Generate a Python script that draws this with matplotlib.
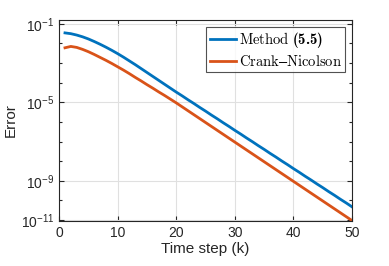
import matplotlib
matplotlib.use("Agg")
import matplotlib.pyplot as plt
import numpy as np
from matplotlib.ticker import FixedLocator, FuncFormatter

# time steps and log10 of the error
steps = list(range(1, 51))
log_err_method = [
    -1.46, -1.50, -1.57, -1.66, -1.77, -1.90, -2.04, -2.19, -2.35, -2.52,
    -2.70, -2.89, -3.08, -3.28, -3.48, -3.68, -3.88, -4.08, -4.28, -4.48,
    -4.67, -4.87, -5.06, -5.26, -5.45, -5.65, -5.84, -6.04, -6.23, -6.43,
    -6.62, -6.82, -7.01, -7.21, -7.40, -7.60, -7.79, -7.99, -8.18, -8.38,
    -8.57, -8.77, -8.96, -9.16, -9.35, -9.55, -9.74, -9.94, -10.13, -10.33,
]
log_err_cn = [
    -2.22, -2.15, -2.20, -2.30, -2.42, -2.56, -2.71, -2.86, -3.02, -3.19,
    -3.36, -3.54, -3.73, -3.91, -4.10, -4.28, -4.47, -4.65, -4.84, -5.03,
    -5.23, -5.43, -5.63, -5.83, -6.03, -6.23, -6.43, -6.63, -6.83, -7.03,
    -7.23, -7.43, -7.63, -7.83, -8.03, -8.23, -8.43, -8.63, -8.83, -9.03,
    -9.23, -9.43, -9.63, -9.83, -10.03, -10.23, -10.43, -10.63, -10.83, -11.03,
]
labels = [r"$\mathrm{Method}\ \mathbf{(5.5)}$", r"$\mathrm{Crank}$" + "\u2013" + r"$\mathrm{Nicolson}$"]
x_ticks = [0, 10, 20, 30, 40, 50]
y_major = [1e-11, 1e-9, 1e-5, 1e-1]
y_minor = [1e-10, 1e-8, 1e-7, 1e-6, 1e-4, 1e-3, 1e-2]

plt.rcParams["font.family"] = ["Liberation Sans", "DejaVu Sans"]
plt.rcParams["mathtext.fontset"] = "custom"
plt.rcParams["mathtext.rm"] = "cmr10"
plt.rcParams["mathtext.bf"] = "cmb10"
plt.rcParams["mathtext.it"] = "cmmi10"

axis_col = "#262626"
fig = plt.figure(figsize=(3.89, 2.66), dpi=100)
ax = fig.add_axes([0.152, 0.170, 0.753, 0.755])

ax.plot(steps, 10.0 ** np.array(log_err_method), color=(0, 0.447, 0.741), lw=2.0, label=labels[0])
ax.plot(steps, 10.0 ** np.array(log_err_cn), color=(0.85, 0.325, 0.098), lw=2.0, label=labels[1])

ax.set_yscale("log")
ax.set_xlim(0, 50)
ax.set_ylim(10 ** -11.04, 10 ** -0.8)
ax.set_xticks(x_ticks)
ax.yaxis.set_major_locator(FixedLocator(y_major))
ax.yaxis.set_minor_locator(FixedLocator(y_minor))
ax.yaxis.set_major_formatter(FuncFormatter(lambda v, p: r"$\mathregular{10^{%d}}$" % round(np.log10(v))))
ax.yaxis.set_minor_formatter(FuncFormatter(lambda v, p: ""))

ax.grid(True, which="major", color="#e0e0e0", lw=0.8)
ax.set_axisbelow(True)
ax.tick_params(which="both", direction="in", top=True, right=True, colors=axis_col,
               labelsize=10, length=3.5, width=0.8)
ax.tick_params(which="minor", length=2.5)
for s in ax.spines.values():
    s.set_color(axis_col)
    s.set_linewidth(0.8)

ax.set_xlabel("Time step (k)", fontsize=11, color=axis_col, labelpad=2)
ax.set_ylabel("Error", fontsize=11, color=axis_col, labelpad=2)

leg = ax.legend(loc="upper right", fontsize=10.5, frameon=True, fancybox=False,
                borderpad=0.25, handlelength=1.8, handletextpad=0.2, labelspacing=0.25,
                borderaxespad=0.45)
leg.get_frame().set_edgecolor(axis_col)
leg.get_frame().set_linewidth(0.8)

fig.savefig("out.png", dpi=100)
